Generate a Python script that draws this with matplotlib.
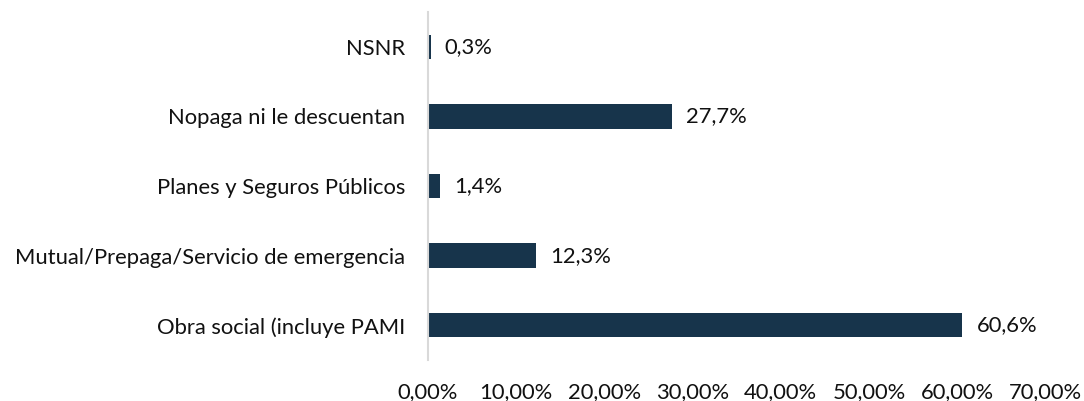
import matplotlib.pyplot as plt
from matplotlib.ticker import FuncFormatter

categorias = ["Obra social (incluye PAMI", "Mutual/Prepaga/Servicio de emergencia",
              "Planes y Seguros Públicos", "Nopaga ni le descuentan", "NSNR"]
valores = [60.6, 12.3, 1.4, 27.7, 0.3]
ticks_x = [0, 10, 20, 30, 40, 50, 60, 70]

plt.rcParams['font.family'] = ['Lato', 'DejaVu Sans']
color = '#17344b'
fs = 15.8

fig = plt.figure(figsize=(10.84, 4.01), dpi=100)
ax = fig.add_axes([0.3948, 0.1022, 0.5694, 0.8678])

ypos = range(len(categorias))
ax.barh(ypos, valores, height=0.35, color=color)
for y, v in zip(ypos, valores):
    ax.text(v + 1.6, y, f"{v:.1f}%".replace('.', ','), va='center', ha='left',
            fontsize=fs, color='#111111')

ax.set_xlim(0, 70)
ax.set_ylim(-0.5, 4.5)
ax.set_yticks(list(ypos))
ax.set_yticklabels(categorias, fontsize=fs, color='#111111')
ax.set_xticks(ticks_x)
ax.xaxis.set_major_formatter(FuncFormatter(lambda x, p: f"{x:.2f}%".replace('.', ',')))
ax.tick_params(axis='x', length=0, pad=16, labelsize=fs, labelcolor='#111111')
ax.tick_params(axis='y', length=0, pad=16.5)

for s in ['top', 'right', 'bottom']:
    ax.spines[s].set_visible(False)
ax.spines['left'].set_color('#d9d9d9')
ax.spines['left'].set_linewidth(1.5)

fig.savefig('out.png', dpi=100)
